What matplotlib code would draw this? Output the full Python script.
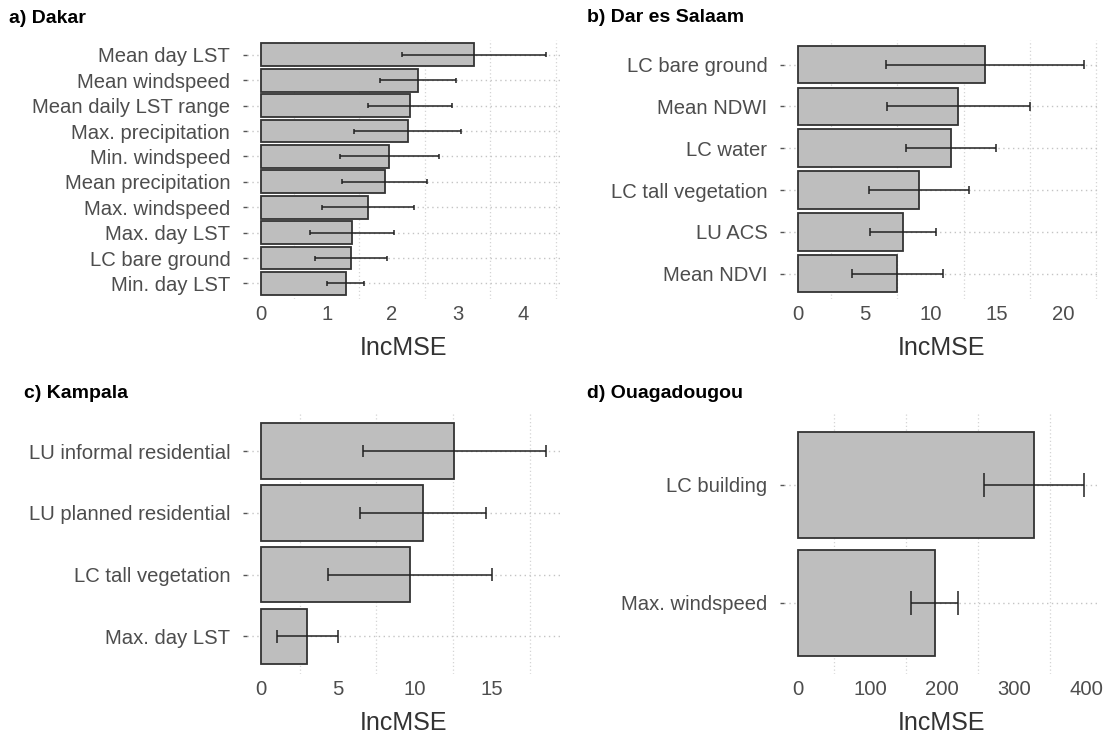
import matplotlib
matplotlib.use("Agg")
import matplotlib.pyplot as plt
import numpy as np

plt.rcParams['font.family'] = ['Liberation Sans', 'DejaVu Sans']

# ---- dados ----
dakar_vars = ['Mean day LST', 'Mean windspeed', 'Mean daily LST range', 'Max. precipitation',
              'Min. windspeed', 'Mean precipitation', 'Max. windspeed', 'Max. day LST',
              'LC bare ground', 'Min. day LST']
dakar_inc = [3.25, 2.39, 2.27, 2.24, 1.96, 1.89, 1.63, 1.39, 1.37, 1.29]
dakar_sd = [1.10, 0.58, 0.64, 0.82, 0.76, 0.65, 0.70, 0.64, 0.55, 0.28]

dar_vars = ['LC bare ground', 'Mean NDWI', 'LC water', 'LC tall vegetation', 'LU ACS', 'Mean NDVI']
dar_inc = [14.1, 12.1, 11.55, 9.12, 7.93, 7.48]
dar_sd = [7.48, 5.42, 3.41, 3.79, 2.49, 3.44]

kampala_vars = ['LU informal residential', 'LU planned residential', 'LC tall vegetation', 'Max. day LST']
kampala_inc = [12.56, 10.56, 9.68, 3.0]
kampala_sd = [5.96, 4.10, 5.34, 2.0]

ouaga_vars = ['LC building', 'Max. windspeed']
ouaga_inc = [327.6, 189.3]
ouaga_sd = [69.0, 32.2]

W, H = 1110, 732
fig = plt.figure(figsize=(W / 100, H / 100), dpi=100)


def eixo(x0, y0, x1, y1):
    # caixa em pixels (origem no topo)
    return fig.add_axes([x0 / W, 1 - y1 / H, (x1 - x0) / W, (y1 - y0) / H])


def painel(ax, nomes, vals, sds, passo, titulo, tx, ty):
    n = len(nomes)
    y = np.arange(n, 0, -1)
    vals = np.array(vals)
    sds = np.array(sds)
    ax.barh(y, vals, height=0.9, color='#bebebe', edgecolor='#333333', linewidth=1.3, zorder=2)
    ax.errorbar(vals, y, xerr=sds, fmt='none', ecolor='#222222', elinewidth=1.1, zorder=3)
    # barras de erro (tampas)
    ax.vlines(vals - sds, y - 0.1, y + 0.1, color='#222222', linewidth=1.1, zorder=3)
    ax.vlines(vals + sds, y - 0.1, y + 0.1, color='#222222', linewidth=1.1, zorder=3)

    hi = (vals + sds).max()
    pad = 0.05 * hi
    ax.set_xlim(-pad, hi + pad)
    ax.set_ylim(0.4, n + 0.6)

    ax.set_xticks(np.arange(0, hi + pad, passo))
    ax.set_xticks(np.arange(passo / 2, hi + pad, passo), minor=True)
    ax.set_yticks(y)
    ax.set_yticklabels(nomes)
    ax.grid(which='minor', axis='x', color='#d4d4d4', linestyle=(0, (1, 2)), linewidth=0.9, zorder=0)
    ax.grid(which='major', axis='y', color='#c4c4c4', linestyle=(0, (1, 2.5)), linewidth=1.0, zorder=0)
    ax.set_axisbelow(True)

    for s in ax.spines.values():
        s.set_visible(False)
    ax.tick_params(axis='x', which='both', length=0, pad=4.5, labelsize=14.6, labelcolor='#4d4d4d')
    ax.tick_params(axis='y', length=3, width=1, color='#555555', pad=9, labelsize=14.6, labelcolor='#4d4d4d')
    ax.set_xlabel('IncMSE', fontsize=18, color='#333333', labelpad=8.5)

    fig.text(tx / W, 1 - ty / H, titulo, fontsize=14, fontweight='bold', va='center', ha='left')


painel(eixo(247, 39.6, 560, 298.7), dakar_vars, dakar_inc, dakar_sd, 1, 'a) Dakar', 9, 18.3)
painel(eixo(784, 39.6, 1098, 298.7), dar_vars, dar_inc, dar_sd, 5, 'b) Dar es Salaam', 587, 17)
painel(eixo(247, 414, 560, 673.5), kampala_vars, kampala_inc, kampala_sd, 5, 'c) Kampala', 23.6, 393)
painel(eixo(784, 414, 1098, 673.5), ouaga_vars, ouaga_inc, ouaga_sd, 100, 'd) Ouagadougou', 587, 393)

fig.savefig('out.png', dpi=100, facecolor='white')
